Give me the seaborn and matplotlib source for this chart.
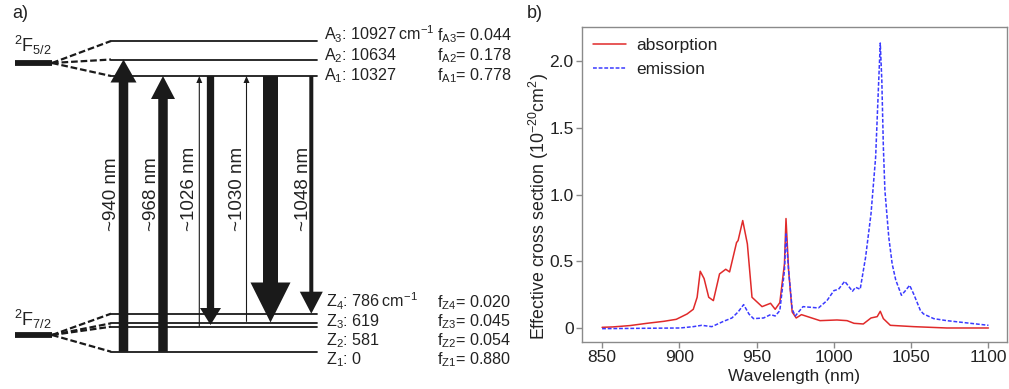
import numpy as np
import pandas as pd
import matplotlib
matplotlib.use('Agg')
import matplotlib.pyplot as plt
import seaborn as sns

# ---------------- data ----------------
abs_wl = [850, 857, 868, 879, 890, 898, 905, 909, 911.5, 913.5, 916, 919, 922, 926, 930,
          932.5, 937, 938, 941, 944, 947, 953.5, 959, 962, 965, 968, 969, 970.7, 973,
          975.6, 979, 991, 1002, 1008.5, 1013, 1019, 1024, 1028, 1030, 1032, 1036.5,
          1051.6, 1073, 1100]
abs_val = [0.005, 0.008, 0.018, 0.035, 0.05, 0.065, 0.105, 0.14, 0.23, 0.425, 0.37,
           0.23, 0.205, 0.405, 0.44, 0.42, 0.64, 0.655, 0.805, 0.63, 0.23, 0.16, 0.185,
           0.14, 0.19, 0.48, 0.82, 0.43, 0.12, 0.075, 0.10, 0.055, 0.06, 0.055, 0.035,
           0.03, 0.075, 0.085, 0.125, 0.07, 0.02, 0.01, 0.0, 0.0]
em_wl = [850, 900.5, 909, 914.5, 921, 928.6, 934, 938, 941.6, 945, 948, 954.5, 959,
         962, 965, 968, 969, 970.7, 973, 975, 980, 990, 995.5, 1000, 1003, 1007, 1012,
         1014, 1017, 1020.5, 1024, 1027, 1029, 1030, 1031, 1032, 1033, 1035.5, 1037.7,
         1040, 1043.7, 1046.3, 1049, 1051.6, 1056, 1058, 1064.6, 1073, 1100]
em_val = [-0.005, 0.0, 0.01, 0.02, 0.01, 0.05, 0.075, 0.12, 0.175, 0.105, 0.07, 0.075,
          0.10, 0.09, 0.13, 0.43, 0.705, 0.43, 0.14, 0.09, 0.16, 0.15, 0.205, 0.28,
          0.29, 0.35, 0.275, 0.305, 0.29, 0.53, 0.855, 1.28, 1.855, 2.135, 1.855, 1.355,
          1.03, 0.68, 0.48, 0.36, 0.245, 0.28, 0.32, 0.255, 0.13, 0.105, 0.07, 0.055,
          0.02]

x_ticks = [850, 900, 950, 1000, 1050, 1100]
y_ticks = [0, 0.5, 1.0, 1.5, 2.0]
y_tick_labels = ['0', '0.5', '1.0', '1.5', '2.0']

upper_names = ['A3', 'A2', 'A1']
upper_energy = [10927, 10634, 10327]
upper_pop = [0.044, 0.178, 0.778]
lower_names = ['Z4', 'Z3', 'Z2', 'Z1']
lower_energy = [786, 619, 581, 0]
lower_pop = [0.020, 0.045, 0.054, 0.880]
transition_labels = ['~940 nm', '~968 nm', '~1026 nm', '~1030 nm', '~1048 nm']

# ---------------- style ----------------
sns.set_theme(style='white')
plt.rcParams['font.family'] = ['Liberation Sans', 'DejaVu Sans']
plt.rcParams['mathtext.fontset'] = 'custom'
plt.rcParams['mathtext.rm'] = 'Liberation Sans'
plt.rcParams['mathtext.it'] = 'Liberation Sans:italic'
plt.rcParams['mathtext.bf'] = 'Liberation Sans:bold'

W, H = 1009, 389
fig = plt.figure(figsize=(W / 100, H / 100), dpi=100)
fig.patch.set_facecolor('white')

RED = '#e02a2a'
BLUE = '#3a3aff'
TXT = '#222222'

# ---------------- panel a: energy level diagram ----------------
LW = 560
axa = fig.add_axes([0, 0, LW / W, 1])
axa.set_xlim(0, LW)
axa.set_ylim(H, 0)
axa.axis('off')

# schematic layout (diagram positions, not data scale)
upper_y = [41, 59.5, 76]
lower_y = [313.7, 323.3, 326.7, 351.7]
upper_term_y, lower_term_y = 63, 335
term_x0, term_x1 = 15, 52
lvl_x0, lvl_x1 = 111, 317

for ty, levels in ((upper_term_y, upper_y), (lower_term_y, lower_y)):
    axa.plot([term_x0, term_x1], [ty, ty], color='k', lw=4.2, solid_capstyle='butt')
    for ly in levels:
        axa.plot([term_x1, lvl_x0], [ty, ly], color='k', lw=1.6, ls=(0, (3, 1.3)))
        axa.plot([lvl_x0, lvl_x1], [ly, ly], color='k', lw=1.3)

axa.text(14, 57, r'$^{2}$F$_{5/2}$', fontsize=13, color=TXT, ha='left', va='bottom')
axa.text(14, 331, r'$^{2}$F$_{7/2}$', fontsize=13, color=TXT, ha='left', va='bottom')

upper_base = [40.7, 60.7, 80]
lower_base = [307, 326, 345, 364]
FS_LVL = 11.6
for i, (n, e, p) in enumerate(zip(upper_names, upper_energy, upper_pop)):
    unit = '\u2009cm$^{-1}$' if i == 0 else ''
    axa.text(324, upper_base[i], n[0] + r'$_{' + n[1] + r'}$: ' + f'{e}' + unit,
             fontsize=FS_LVL, color=TXT, ha='left', va='baseline')
    axa.text(437, upper_base[i], r'f$_{\mathrm{' + n + r'}}$= ' + f'{p:.3f}',
             fontsize=FS_LVL, color=TXT, ha='left', va='baseline')
for i, (n, e, p) in enumerate(zip(lower_names, lower_energy, lower_pop)):
    unit = '\u2009cm$^{-1}$' if i == 0 else ''
    axa.text(326, lower_base[i], n[0] + r'$_{' + n[1] + r'}$: ' + f'{e}' + unit,
             fontsize=FS_LVL, color=TXT, ha='left', va='baseline')
    axa.text(437, lower_base[i], r'f$_{\mathrm{' + n + r'}}$= ' + f'{p:.3f}',
             fontsize=FS_LVL, color=TXT, ha='left', va='baseline')

# arrows: (x, y_from, y_to, shaft width, head width, head length)
arrows = [
    (123.5, lower_y[3], upper_y[1], 9.5, 26, 23),
    (163, lower_y[3], upper_y[2], 9.5, 24, 23),
    (199.3, lower_y[2], upper_y[2], 1.1, 6, 7),
    (210.5, upper_y[2], 325, 7.3, 21, 17),
    (246.5, lower_y[1] - 1.5, upper_y[2], 1.1, 6, 7),
    (270.5, upper_y[2], 322.5, 15, 40, 40),
    (311.3, upper_y[2], lower_y[0], 4, 23, 22),
]
for x, y0, y1, w, hw, hl in arrows:
    axa.arrow(x, y0, 0, y1 - y0, width=w, head_width=hw, head_length=hl,
              length_includes_head=True, color='k', lw=0)

label_x = [111, 151, 189, 238, 304]
for x, t in zip(label_x, transition_labels):
    axa.text(x, 231, t, rotation=90, fontsize=13.5, color=TXT, ha='center', va='bottom')

fig.text(12 / W, 1 - 13 / H, 'a)', fontsize=13, color=TXT, ha='left', va='center')
fig.text(527 / W, 1 - 13 / H, 'b)', fontsize=13, color=TXT, ha='left', va='center')

# ---------------- panel b: cross sections ----------------
axb = fig.add_axes([582 / W, 1 - 342 / H, (1007 - 582) / W, (342 - 27) / H])
df_abs = pd.DataFrame({'wl': abs_wl, 'val': abs_val})
df_em = pd.DataFrame({'wl': em_wl, 'val': em_val})
sns.lineplot(data=df_abs, x='wl', y='val', ax=axb, color=RED, lw=1.1, label='absorption')
sns.lineplot(data=df_em, x='wl', y='val', ax=axb, color=BLUE, lw=1.1,
             ls=(0, (2.5, 1.2)), label='emission')

axb.set_xlim(837, 1112)
axb.set_ylim(-0.105, 2.255)
axb.set_xticks(x_ticks)
axb.set_yticks(y_ticks)
axb.set_yticklabels(y_tick_labels)
for s in axb.spines.values():
    s.set_color('#8a8a8a')
    s.set_linewidth(1.0)
axb.tick_params(direction='out', length=4, width=1, color='#8a8a8a',
                labelsize=12.5, labelcolor=TXT, pad=2, bottom=True, left=True)
axb.set_xlabel('Wavelength (nm)', fontsize=12.5, color=TXT, labelpad=3)
axb.set_ylabel(r'Effective cross section (10$^{-20}$cm$^{2}$)', fontsize=12.8,
               color=TXT)
axb.yaxis.set_label_coords(-0.073, 0.43)
leg = axb.legend(loc='upper left', frameon=False, fontsize=12.5, handlelength=1.9,
                 handletextpad=0.55, labelspacing=0.5, borderaxespad=0.4,
                 borderpad=0.25)
for t in leg.get_texts():
    t.set_color(TXT)

fig.savefig('out.png', dpi=100, facecolor='white')
